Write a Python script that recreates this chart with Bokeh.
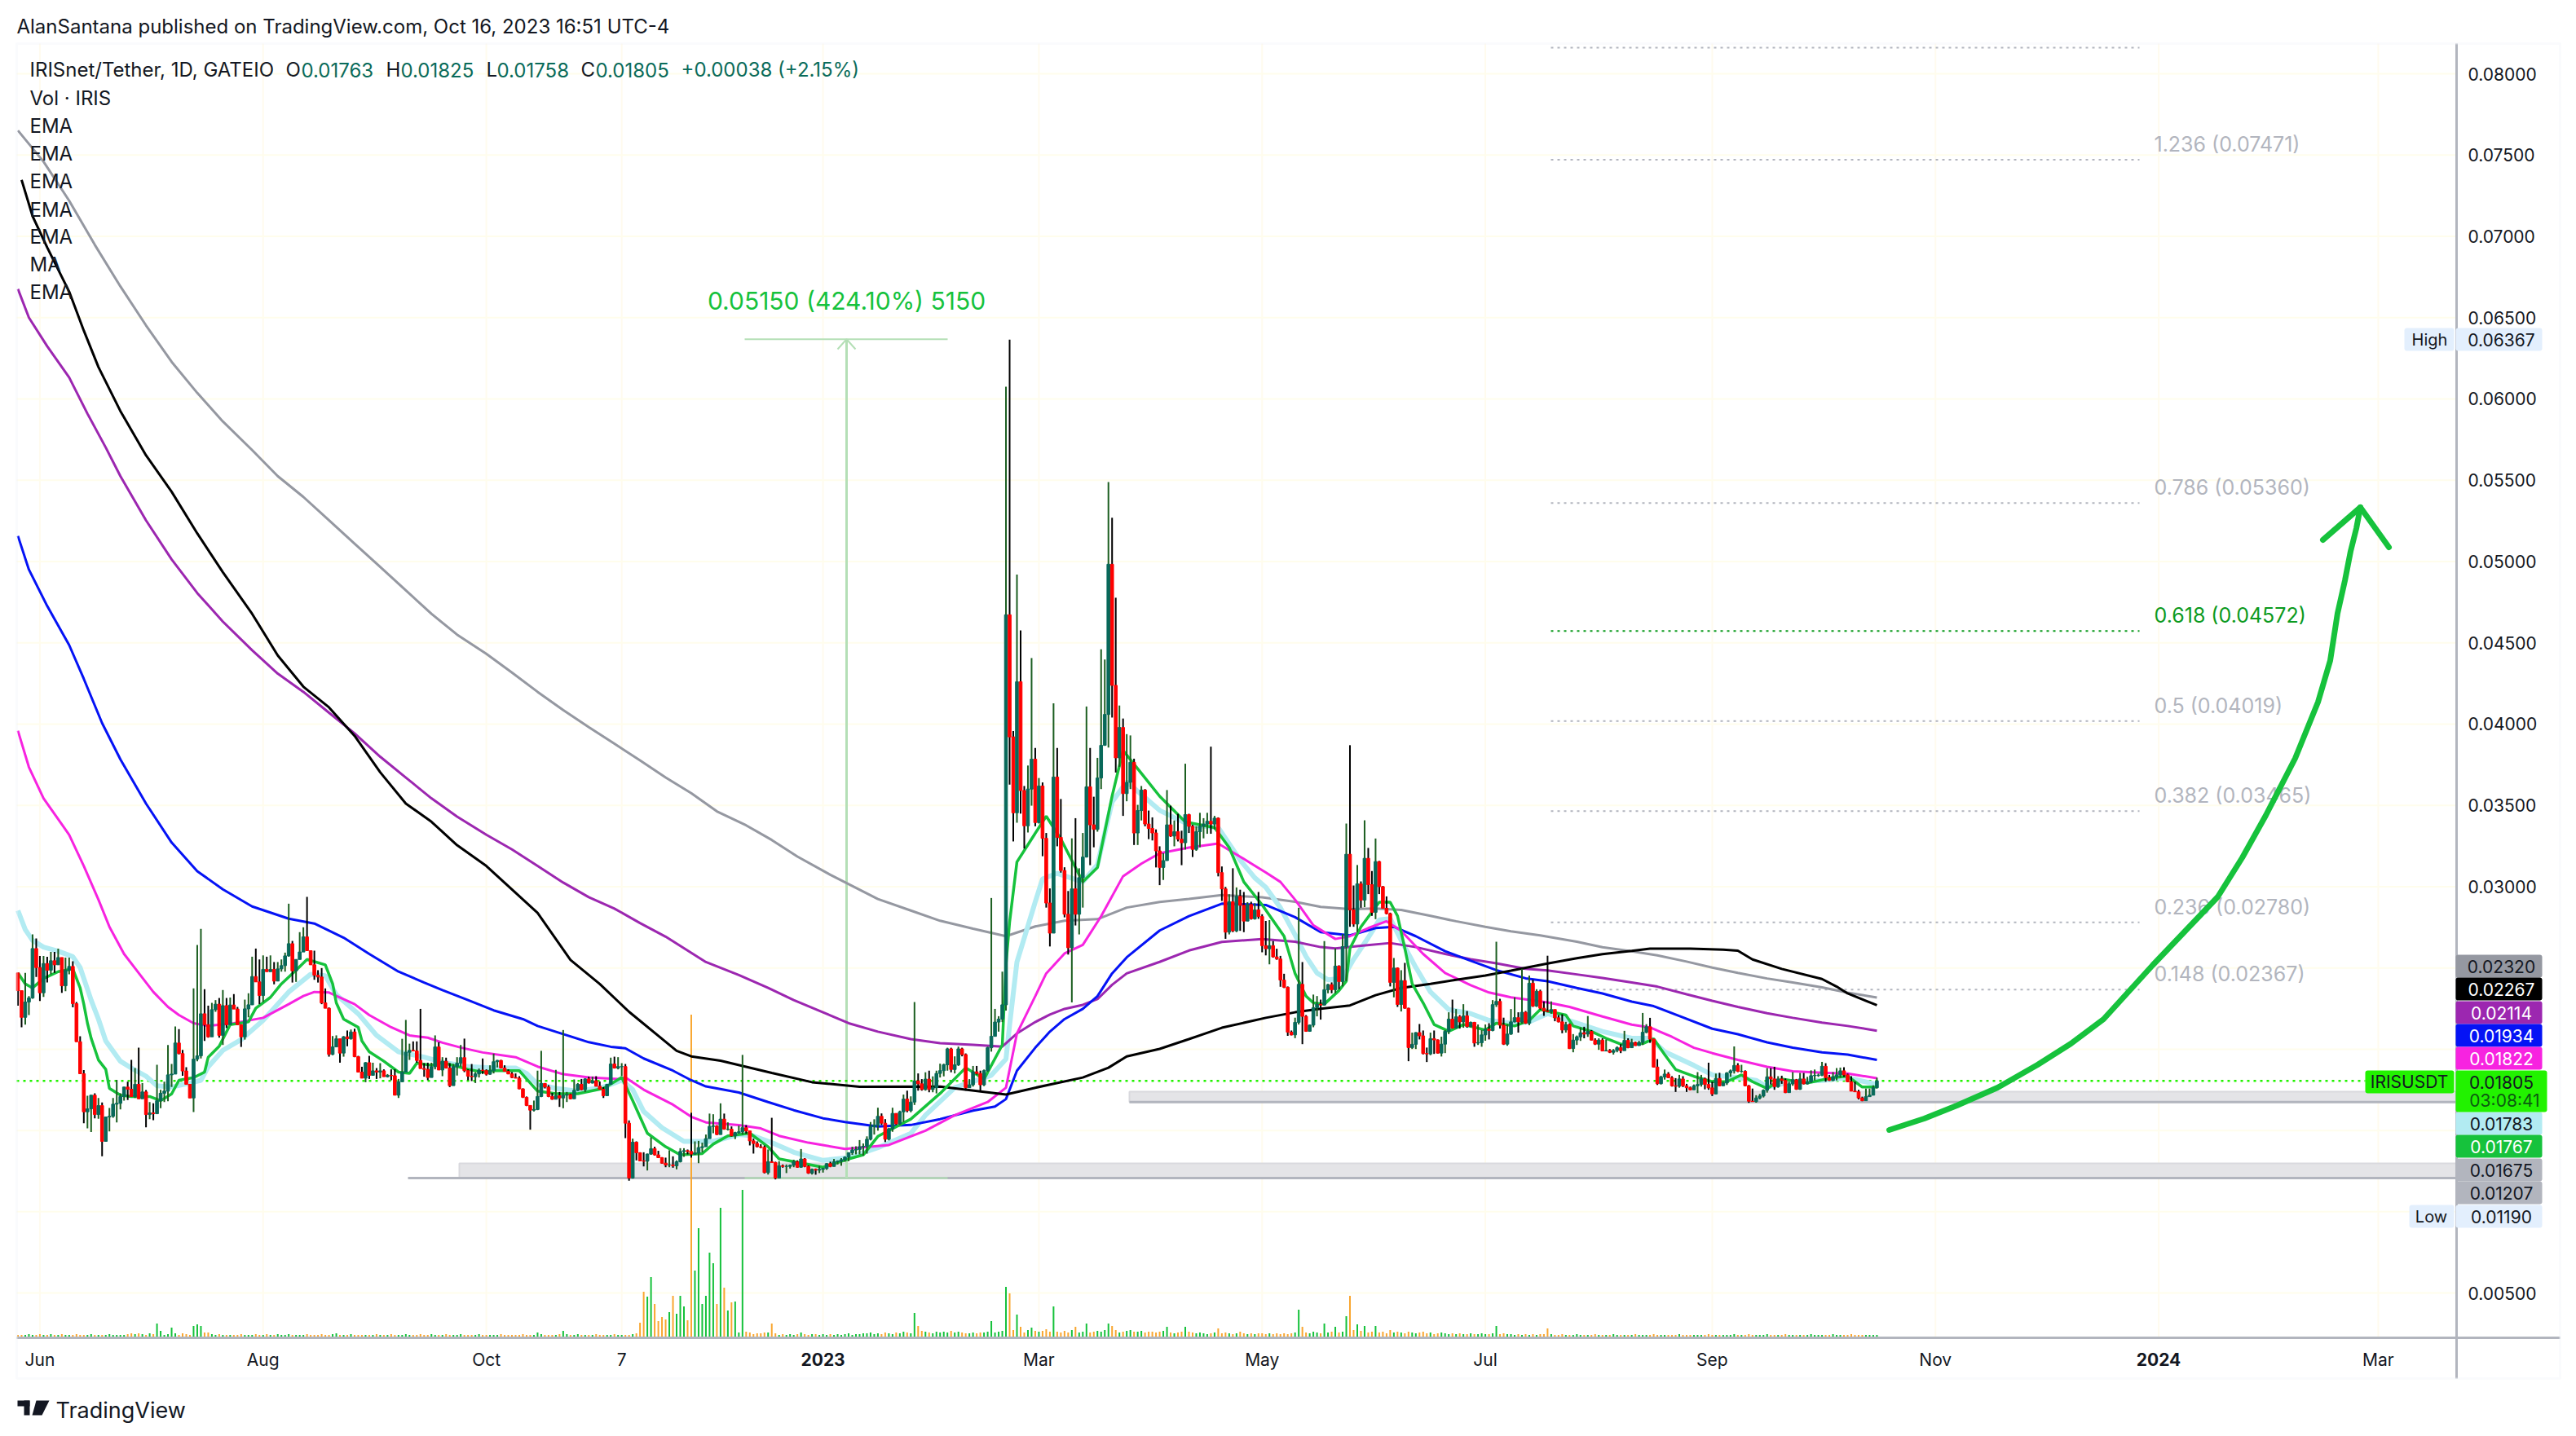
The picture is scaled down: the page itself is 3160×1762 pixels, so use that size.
import numpy as np
from bokeh.plotting import figure
from bokeh.embed import file_html
from bokeh.resources import INLINE
from bokeh.core.properties import value
from bokeh.models import Range1d, FixedTicker, Label, BoxAnnotation, PolyAnnotation, NumeralTickFormatter

FIRST_OPEN = 2469  # prices are in units of 0.00001

CLOSE_A = [
2360,2196,2290,2315,2619,2502,2347,2527,2486,2544,
2519,2564,2390,2486,2509,2280,2046,1849,1615,1633,
1717,1598,1653,1433,1583,1587,1662,1667,1709,1767,
1754,1709,1784,1695,1737,1598,1608,1603,1683,1729,
1742,1842,1847,2038,1973,1866,1784,1700,1939,1959,
2218,2151,2076,2243,2277,2085,2268,2151,2272,2247,
2151,2076,2248,2273,2447,2414,2330,2491,2477,2491,
2419,2494,2514,2574,2649,2482,2552,2598,2691,2606,
2519,2455,2444,2285,2252,1968,2014,2064,1976,2076,
2064,2106,1954,1859,1822,1917,1839,1867,1859,1867,
1831,1839,1837,1717,1800,1859,1981,1993,1989,1931,
1881,1876,1826,1892,2014,1872]
HIGH_A = [
2469,2290,2469,2327,2706,2681,2574,2574,2569,2599,
2599,2619,2564,2564,2564,2541,2290,2080,1872,1714,
1717,1729,1700,1672,1583,1638,1700,1812,1729,1767,
1800,1934,1884,2009,1792,1749,1675,1667,1904,1750,
1800,2026,1909,2140,2123,1996,1889,1787,2374,2641,
2740,2369,2268,2285,2302,2315,2364,2315,2318,2339,
2260,2135,2305,2344,2569,2619,2552,2577,2569,2577,
2536,2536,2552,2594,2895,2666,2552,2720,2750,2937,
2606,2606,2486,2499,2374,2257,2081,2085,2059,2081,
2115,2121,2126,1959,1892,1921,1959,1917,1884,1914,
1876,1847,1876,1876,1817,2064,2180,2034,2048,2048,
2248,1914,1917,1917,2085,2043]
LOW_A = [
2268,2135,2151,2210,2310,2444,2297,2322,2410,2461,
2469,2519,2347,2357,2461,2257,2046,1846,1545,1513,
1491,1575,1572,1341,1458,1495,1578,1550,1630,1683,
1687,1709,1700,1695,1700,1520,1570,1563,1603,1637,
1675,1680,1767,1876,1968,1837,1784,1700,1613,1926,
1943,2051,2071,2081,2230,2071,2026,2130,2156,2247,
2151,2014,2059,2196,2272,2414,2277,2290,2477,2477,
2399,2419,2477,2477,2569,2410,2414,2552,2599,2606,
2519,2427,2410,2277,2252,1954,1963,2014,1917,1954,
2018,2059,1951,1859,1822,1797,1817,1851,1817,1821,
1831,1826,1809,1717,1700,1800,1859,1934,1989,1917,
1881,1831,1809,1826,1876,1872]

CLOSE_B = [
1926,1884,1776,1893,1914,1948,1868,1834,1831,1848,
1871,1868,1846,1868,1923,1931,1884,1864,1848,1826,
1822,1756,1704,1654,1625,1629,1709,1789,1767,1709,
1692,1714,1700,1717,1721,1695,1747,1784,1751,1817,
1792,1806,1772,1754,1714,1784,1909,1884,1893,1893,
1545,1208,1428,1363,1313,1311,1355,1388,1350,1333,
1299,1288,1288,1283,1308,1371,1376,1371,1355,1361,
1395,1400,1450,1525,1528,1475,1570,1508,1508,1467,
1487,1492,1517,1497,1436,1420,1400,1396,1241,1308,
1303,1208,1283,1279,1279,1286,1308,1274,1325,1279,
1238,1261,1256,1261,1266,1296,1279,1308,1311,1320,
1336,1363,1380,1383,1400,1403]
HIGH_B = [
1951,1948,1914,1909,1951,2026,2065,1876,1909,1859,
1881,1943,1876,1901,1973,1934,1934,1901,1876,1859,
1851,1834,1759,1709,1650,1684,1868,1990,1792,1779,
1731,1873,1737,2118,1737,1727,1814,1792,1817,1821,
1831,1831,1834,1801,1767,1784,1948,1954,1951,1914,
1909,1562,1450,1433,1366,1366,1358,1458,1400,1375,
1336,1333,1378,1341,1316,1391,1391,1383,1609,1433,
1436,1425,1475,1604,1600,1533,1667,1604,1550,1525,
1492,1530,1965,1533,1497,1450,1433,1416,1408,1383,
1578,1308,1311,1291,1291,1291,1320,1316,1386,1330,
1286,1266,1266,1283,1271,1299,1308,1325,1316,1330,
1341,1366,1400,1403,1441,1420]
LOW_B = [
1834,1881,1767,1776,1838,1893,1859,1809,1804,1792,
1826,1848,1838,1843,1851,1888,1881,1863,1846,1822,
1821,1754,1700,1650,1505,1617,1625,1705,1759,1705,
1689,1695,1645,1637,1675,1692,1695,1742,1747,1737,
1789,1789,1771,1751,1700,1714,1784,1881,1876,1834,
1453,1191,1204,1316,1311,1279,1254,1350,1346,1330,
1296,1274,1274,1271,1261,1303,1338,1353,1333,1350,
1299,1366,1400,1450,1483,1472,1475,1505,1500,1463,
1447,1480,1475,1480,1408,1358,1396,1391,1236,1229,
1303,1199,1208,1271,1238,1266,1274,1271,1271,1274,
1233,1229,1228,1238,1241,1258,1274,1278,1291,1283,
1308,1311,1350,1353,1353,1346]

CLOSE_C = [
1446,1524,1534,1587,1545,1446,1510,1605,1541,1615,
1693,1622,1675,1805,1787,1752,1816,1752,1763,1851,
1868,1904,2002,1875,1904,2002,1967,1763,1781,1861,
1851,1781,1868,2009,2079,2167,2185,2273]
HIGH_C = [
1464,1552,1569,1640,1605,1570,1517,1640,1605,1622,
1721,1745,1710,2290,1851,1816,1858,1868,1833,1868,
1911,1911,2009,2009,1956,2016,2009,1974,1816,1897,
1897,1868,1875,2016,2930,2248,2203,2477]
LOW_C = [
1358,1439,1475,1499,1534,1429,1439,1492,1534,1534,
1552,1612,1612,1657,1745,1745,1745,1735,1735,1728,
1826,1833,1868,1858,1851,1897,1956,1745,1763,1770,
1844,1745,1773,1861,1985,2079,2108,2167]

CLOSE_D = [
4672,3921,3454,4260,3591,3374,3600,3784,3394,3619,
3297,2899,2714,3674,3303,3099,2830,2624,2986,2830,
3055,3182,3614,3380,3352,3668,3869,4059,4983,4238,
3792,3979,3572,3641,3765,3330,3468,3594,3385,3358,
3330,3220,3118,3160,3380,3311,3338,3292,3270,3443,
3371,3229,3338,3371,3385,3402,3385,3421,3086,2986,
2720,2907,2728,2940,2885,2788,2890,2802,2857,2816,
2637,2618,2637,2568,2555,2425,2381]
HIGH_D = [
6075,6364,3957,4920,4576,3619,3745,4406,3853,3668,
3641,3330,2989,4128,3853,3539,3119,2973,3297,3421,
3113,3330,4108,3853,3553,3792,4460,4397,5489,5269,
4777,4114,4034,3938,3930,3787,3503,3619,3600,3468,
3426,3352,3248,3206,3594,3498,3407,3448,3344,3756,
3448,3380,3371,3454,3421,3454,3861,3435,3426,3124,
2998,2953,3113,2995,2981,2967,2904,2907,2898,2967,
2830,2789,2794,2665,2618,2574,2464]
LOW_D = [
2238,3627,3278,3393,3449,3234,3333,3498,3371,3388,
3187,2871,2632,2714,3248,3086,2811,2582,2288,2761,
2706,2871,3179,3132,3242,3338,3600,3866,3856,4040,
3702,3737,3435,3525,3600,3256,3256,3407,3371,3292,
3284,3118,3009,3041,3165,3306,3248,3278,3132,3228,
3330,3182,3220,3242,3297,3325,3325,3352,3063,2912,
2679,2706,2720,2720,2728,2720,2788,2797,2797,2802,
2596,2577,2522,2563,2550,2384,2376]

CLOSE_E = [
2105,2088,2165,2399,2202,2110,2148,2255,2277,2272,
2366,2397,2366,2511,2416,2631,3199,2857,2770,3017,
2917,3174,3012,2842,3154,3000,2867,2834,2411,2499,
2275,2422,2252,2010,2030,2102,2082,1973,1971,2065,
2057,1976,2031,2110,2185,2130,2199,2168,2205,2140,
2165,2038,2040,2088,2123,2115,2274,2294,2148,2031,
2093,2168,2194,2168,2227,2160,2406,2265,2356,2252,
2235,2232,2244,2193,2168,2118,2152]
HIGH_E = [
2386,2115,2194,2870,2536,2210,2152,2336,2327,2305,
2665,2402,2411,2620,2516,2708,3388,3870,3007,3133,
3032,3408,3238,3096,3296,3158,3004,2940,2840,2561,
2503,2486,2531,2255,2102,2105,2155,2115,2010,2102,
2115,2060,2077,2118,2227,2305,2247,2210,2277,2235,
2170,2168,2152,2118,2152,2160,2302,2661,2310,2194,
2152,2247,2319,2227,2494,2235,2453,2427,2369,2366,
2294,2575,2294,2239,2210,2215,2168]
LOW_E = [
2082,2085,2068,2152,2031,2107,2107,2135,2202,2182,
2269,2344,2344,2344,2369,2386,2419,2753,2753,2720,
2870,2874,2954,2820,2800,2954,2865,2829,2386,2319,
2260,2232,2249,1926,2001,2001,2060,1968,1921,1963,
1971,1973,1955,1976,2093,2127,2127,2127,2132,2132,
2135,2015,2026,2015,2052,2060,2110,2260,2127,2026,
2021,2088,2165,2102,2157,2155,2148,2260,2260,2244,
2205,2227,2218,2172,2165,2098,2102]

CLOSE_F = [
2004,2056,2076,2101,2093,2109,2056,2031,2056,1989,
1992,1981,1992,2009,1991,2054,2009,2042,2022,2042,
2104,2138,2062,1890,1788,1829,1847,1825,1775,1772,
1817,1775,1763,1750,1775,1783,1817,1783,1762,1725,
1820,1775,1792,1854,1867,1900,1864,1864,1775,1680,
1678,1700,1712,1747,1830,1817,1770,1817,1808,1733,
1787,1812,1753,1817,1787,1800,1837,1839,1840,1895,
1825,1808,1830,1842,1867,1842,1800,1742,1738,1700,
1683,1708,1717,1763,1805]
HIGH_F = [
2159,2093,2084,2134,2138,2204,2118,2067,2067,2067,
2059,2001,2001,2017,2031,2113,2067,2064,2047,2051,
2223,2154,2193,2064,1939,1837,1875,1859,1834,1822,
1842,1834,1787,1770,1783,1859,1842,1825,1917,1800,
1850,1855,1800,1859,1875,2017,1914,1904,1870,1780,
1758,1717,1725,1753,1884,1884,1892,1834,1837,1820,
1800,1859,1817,1854,1854,1830,1870,1875,1850,1922,
1914,1842,1859,1884,1887,1889,1850,1834,1800,1750,
1708,1758,1758,1778,1825]
LOW_F = [
2001,1981,2026,2051,2067,2076,2054,2026,1996,1987,
1987,1976,1967,1981,1976,1996,2006,2012,2021,2026,
2026,2098,2039,1889,1780,1783,1813,1822,1770,1737,
1763,1767,1737,1747,1750,1730,1770,1753,1750,1712,
1723,1772,1775,1780,1830,1850,1859,1855,1772,1670,
1676,1671,1691,1703,1733,1783,1750,1763,1787,1730,
1733,1775,1750,1750,1783,1783,1792,1808,1830,1834,
1800,1805,1803,1808,1825,1830,1797,1742,1737,1691,
1680,1687,1708,1717,1758]

VOLUME = [
2,2,2,3,2,2,3,2,2,3, 2,2,3,2,2,2,3,2,2,2, 3,2,2,2,2,3,2,2,2,2, 3,4,3,4,3,2,4,3,16,7,
2,3,11,4,2,4,3,2,13,15, 13,5,5,3,2,3,2,2,2,2, 2,3,2,2,2,3,2,2,3,2, 2,3,2,2,3,2,2,2,2,3,
2,2,2,3,2,2,3,4,2,2, 2,3,2,2,2,2,2,2,3,2, 2,2,3,2,2,2,3,2,2,2, 3,2,2,3,2,2,2,3,2,2,
2,3,2,2,2,2,3,2,2,2, 2,2,3,2,2,2,2,2,3,2, 2,2,5,3,2,2,2,2,3,7, 3,2,2,3,2,2,2,2,3,2,
2,2,2,3,2,2,2,2,3,4, 17,55,49,73,40,19,24,21,30,50, 28,50,37,20,395,81,133,40,50,103,
90,40,158,60,32,42,43,5,180,6, 5,3,4,4,5,5,16,4,2,3, 2,3,2,3,5,3,2,3,3,2, 3,2,3,2,3,2,3,4,2,3,
3,4,4,5,3,4,3,5,4,3, 5,4,6,5,4,29,13,7,6,5, 4,6,5,6,5,7,5,6,5,4, 4,5,4,5,5,6,19,5,6,7,
61,53,8,27,12,5,8,11,7,6, 7,9,6,37,6,5,7,5,8,12, 5,6,16,5,6,7,6,8,16,13, 8,5,6,7,8,6,6,7,5,6,
6,5,6,7,12,5,4,5,6,12, 6,5,4,5,4,3,4,5,10,4, 5,4,3,4,6,4,3,4,3,4, 4,3,4,3,4,3,4,3,4,5,
33,12,5,4,6,5,4,16,5,6, 12,5,6,25,50,8,15,7,13,5, 6,13,5,6,4,8,5,6,5,4, 6,5,4,5,6,4,5,3,4,5,
4,3,4,3,4,3,3,4,3,3, 4,3,3,4,13,3,4,3,3,2, 3,2,3,2,3,2,3,3,10,3, 2,2,3,2,2,2,3,2,2,2,
2,3,2,2,2,2,3,2,2,2, 2,2,3,2,2,2,2,3,2,2, 2,2,2,2,3,2,2,2,2,2, 2,2,3,2,2,2,2,2,2,3,
2,2,2,3,2,2,2,2,3,2, 2,2,2,3,2,2,2,2,2,2, 3,2,2,2,2,2,3,2,2,2, 2,3,2,2,2,2,2,2,2]

GRAY_I = [0,7,14,21,28,35,42,49,56,64,71,78,85,92,99,106,113,120,128,135,142,149,156,163,170,177,184,191,199,206,213,222,
          235,244,252,261,270,278,286,295,303,312,320,329,340,349,356,364,371,378,386,393,401,408,416,426,433,441,448,456,463,470,478,485,493,500,508]
GRAY_P = [7651,7459,7219,6948,6692,6452,6228,6037,5861,5685,5525,5397,5253,5109,4966,4822,4678,4550,4432,4317,4198,4086,3981,3879,3776,3671,3575,3463,3377,3287,3185,3073,
          2924,2853,2790,2741,2695,2755,2790,2800,2871,2906,2924,2948,2934,2907,2875,2862,2865,2857,2820,2787,2753,2725,2700,2661,2627,2602,2577,2539,2502,2469,2435,2410,2380,2348,2318]
BLACK_I = [1,4,8,14,18,22,28,35,42,49,56,64,71,78,85,92,99,106,113,120,128,135,142,151,159,167,180,184,192,206,217,230,252,270,278,291,298,303,312,320,329,341,349,356,364,371,378,386,393,401,408,418,426,433,441,446,457,466,470,474,482,493,497,500,508]
BLACK_P = [7347,7124,6932,6660,6420,6196,5925,5653,5429,5173,4934,4678,4422,4230,4103,3927,3703,3511,3399,3255,3127,2983,2839,2549,2401,2230,1990,1956,1929,1854,1797,1769,1770,1721,1763,1826,1886,1956,2002,2062,2132,2193,2227,2249,2269,2332,2377,2402,2427,2453,2483,2527,2560,2585,2605,2619,2619,2612,2606,2552,2494,2432,2385,2343,2271]
PURPLE_I = [0,3,8,14,19,24,28,35,42,49,56,64,71,78,85,92,99,106,113,120,128,135,142,149,156,163,170,177,188,197,205,212,220,227,235,244,252,261,269,273,278,282,286,291,295,299,303,312,320,329,340,349,356,360,367,375,382,390,397,404,412,418,426,433,441,448,456,463,470,478,485,493,500,508]
PURPLE_P = [6676,6500,6324,6132,5909,5701,5525,5253,5013,4806,4630,4454,4310,4198,4070,3943,3799,3671,3543,3431,3319,3229,3127,3025,2935,2865,2776,2692,2536,2456,2377,2302,2227,2160,2108,2062,2037,2027,2016,2097,2167,2213,2248,2273,2308,2396,2466,2537,2607,2660,2677,2661,2628,2620,2636,2653,2628,2586,2553,2528,2494,2485,2460,2438,2410,2385,2338,2298,2260,2221,2193,2164,2143,2114]
BLUE_I = [0,3,8,14,18,23,28,35,42,49,56,64,74,81,89,96,104,111,116,123,130,138,142,149,156,162,166,171,179,184,188,197,205,212,220,226,235,244,252,261,267,270,273,278,282,286,291,295,299,303,312,320,329,341,349,356,364,371,376,382,390,397,404,412,418,426,433,441,447,454,463,470,478,485,493,500,508]
BLUE_P = [5157,4950,4726,4486,4278,4006,3783,3511,3271,3095,2983,2878,2803,2773,2686,2586,2477,2410,2364,2302,2239,2185,2143,2093,2043,2015,2006,1943,1868,1809,1771,1734,1675,1625,1575,1552,1524,1534,1570,1622,1647,1693,1868,2009,2108,2185,2248,2326,2466,2565,2730,2818,2895,2887,2812,2720,2700,2745,2753,2695,2603,2544,2486,2436,2418,2377,2343,2293,2265,2204,2126,2092,2042,2009,1981,1967,1934]
MAGENTA_I = [0,3,7,14,18,22,25,29,33,37,41,44,48,52,59,67,74,78,81,85,92,96,102,107,112,116,121,127,136,142,149,156,164,166,171,179,184,188,197,203,208,216,226,238,248,256,265,270,273,278,281,286,291,296,302,307,312,320,328,334,338,341,345,349,354,360,364,369,374,378,384,390,397,402,408,418,424,433,441,446,452,458,463,470,478,485,493,500,508]
MAGENTA_P = [3959,3735,3543,3319,3127,2920,2753,2586,2469,2352,2260,2210,2160,2143,2160,2193,2277,2327,2352,2349,2277,2210,2135,2085,2071,2040,2010,1980,1951,1893,1846,1826,1817,1826,1751,1659,1584,1550,1533,1513,1467,1425,1387,1411,1499,1594,1675,1763,2097,2326,2466,2589,2642,2818,3064,3141,3205,3240,3265,3184,3129,3087,3029,2920,2762,2678,2695,2745,2787,2728,2586,2469,2394,2349,2319,2288,2260,2201,2151,2134,2076,2009,1976,1934,1892,1864,1855,1850,1822]
LIGHT_I = [0,2,4,7,11,15,17,20,22,24,28,31,35,38,42,47,50,52,56,61,67,74,80,84,87,93,98,104,111,116,123,130,136,139,142,147,153,160,165,168,171,176,182,190,197,201,207,212,220,227,235,244,248,256,266,270,271,273,278,280,284,291,295,299,303,312,320,328,334,338,341,345,349,352,355,358,362,365,369,372,375,378,382,386,391,397,402,408,413,418,425,433,441,446,450,458,463,470,475,478,485,493,500,508]
LIGHT_P = [2853,2736,2669,2628,2603,2569,2502,2302,2185,2051,1926,1884,1834,1775,1767,1792,1809,1892,1993,2059,2177,2352,2461,2452,2335,2218,2085,1984,1951,1920,1893,1884,1884,1851,1784,1759,1742,1767,1809,1751,1617,1517,1433,1433,1475,1467,1416,1366,1316,1333,1394,1482,1594,1763,1840,1939,2150,2537,2906,3047,3082,3029,3135,3521,3645,3469,3381,3363,3163,3054,2996,2870,2703,2570,2469,2427,2436,2553,2686,2795,2803,2670,2503,2352,2244,2219,2177,2160,2168,2219,2168,2109,2067,2067,1984,1900,1842,1825,1808,1767,1800,1808,1825,1783]
GREEN_I = [0,2,4,7,11,15,17,18,19,20,22,24,25,28,31,36,39,42,44,48,51,52,55,58,63,65,69,72,76,79,84,86,87,89,93,94,96,100,104,107,109,113,116,123,127,130,137,139,142,147,153,160,165,168,170,172,177,181,187,190,194,200,205,208,216,220,227,231,235,244,252,259,264,269,270,271,273,277,281,285,291,295,299,302,307,312,319,327,331,335,340,346,349,352,354,357,361,363,364,367,372,375,377,379,381,384,387,391,395,401,404,409,413,416,423,425,430,434,438,444,447,450,453,458,463,467,471,474,478,482,489,496,500,504,508]
GREEN_P = [2469,2402,2377,2435,2477,2494,2377,2277,2160,2068,1934,1876,1759,1717,1709,1709,1683,1725,1809,1825,1859,1951,2018,2151,2168,2252,2319,2402,2486,2552,2519,2402,2285,2185,2135,2051,1984,1926,1859,1851,1914,1901,1918,1876,1859,1868,1868,1817,1742,1726,1726,1759,1826,1684,1583,1483,1400,1350,1358,1416,1467,1483,1400,1325,1291,1274,1325,1350,1464,1570,1728,1886,1816,2027,2519,2783,3152,3293,3433,3293,3029,3117,3557,3838,3697,3556,3398,3363,3240,3029,2888,2695,2466,2327,2285,2277,2361,2419,2620,2753,2904,2904,2820,2620,2402,2285,2152,2110,2152,2118,2160,2143,2177,2244,2210,2143,2109,2067,2031,2034,2064,1967,1875,1833,1800,1800,1842,1800,1758,1817,1792,1825,1834,1767,1767]

FIB_LEVELS = [0.0816, 0.07471, 0.05360, 0.04572, 0.04019, 0.03465, 0.02780, 0.02367]
FIB_TEXTS = ["", "1.236 (0.07471)", "0.786 (0.05360)", "0.618 (0.04572)", "0.5 (0.04019)", "0.382 (0.03465)", "0.236 (0.02780)", "0.148 (0.02367)"]
FIB_COLORS = ["#b2b5be", "#b2b5be", "#b2b5be", "#0c9a1e", "#b2b5be", "#b2b5be", "#b2b5be", "#b2b5be"]

PRICE_TICKS = [0.08, 0.075, 0.07, 0.065, 0.06, 0.055, 0.05, 0.045, 0.04, 0.035, 0.03, 0.005]
GRID_TICKS = [0.08, 0.075, 0.07, 0.065, 0.06, 0.055, 0.05, 0.045, 0.04, 0.035, 0.03, 0.025, 0.02, 0.015, 0.01, 0.005]
DATE_TICKS = [6, 67, 128, 165, 220, 279, 340, 401, 463, 524, 585, 645]
DATE_LABELS = ["Jun", "Aug", "Oct", "7", "", "Mar", "May", "Jul", "Sep", "Nov", "", "Mar"]
BOLD_TICKS = [220, 585]
BOLD_LABELS = ["2023", "2024"]

PRICE_TAGS = ["0.02320", "0.02267", "0.02114", "0.01934", "0.01822", "0.01783", "0.01767", "0.01675", "0.01207"]
TAG_FILLS = ["#9598a1", "#000000", "#9c27b0", "#0513f5", "#f723e0", "#b2ebf2", "#16c23c", "#b2b5be", "#b2b5be"]
TAG_TEXTS = ["#131722", "#ffffff", "#ffffff", "#ffffff", "#ffffff", "#131722", "#ffffff", "#131722", "#131722"]
TAG_ROWS = [1185, 1213, 1242, 1270, 1298, 1378, 1406, 1435, 1463]

ZONE_TOP = [1297, 1739]
ZONE_BOTTOM = [1207, 1675]

ARROW_X = [2317, 2360, 2400, 2450, 2499, 2540, 2580, 2640, 2700, 2720, 2750, 2779, 2815, 2843, 2858, 2867, 2876, 2883, 2890, 2895]
ARROW_Y = [1386, 1372, 1356, 1334, 1306, 1280, 1250, 1184, 1121, 1100, 1052, 1000, 930, 861, 810, 752, 712, 676, 648, 622]
HEAD_X = [2849, 2895, 2930]
HEAD_Y = [662, 622, 671]

close = np.array(CLOSE_A + CLOSE_B + CLOSE_C + CLOSE_D + CLOSE_E + CLOSE_F) * 1e-5
high = np.array(HIGH_A + HIGH_B + HIGH_C + HIGH_D + HIGH_E + HIGH_F) * 1e-5
low = np.array(LOW_A + LOW_B + LOW_C + LOW_D + LOW_E + LOW_F) * 1e-5
opn = np.concatenate([[FIRST_OPEN * 1e-5], close[:-1]])
vol = np.array(VOLUME, dtype=float)
n = min(len(close), len(high), len(low), len(vol))
close, high, low, opn, vol = close[:n], high[:n], low[:n], opn[:n], vol[:n]
idx = np.arange(n)
up = close >= opn


def xd(px):
    return (px - 21.5) / 4.489


def yd(py):
    return (8000 - (py - 90) * 5.013) * 1e-5


FONT = "Inter"
W, H = 3144, 1746
RIGHT, BOTTOM = 3013, 1641
p = figure(width=W, height=H, output_backend="svg", toolbar_location=None,
           x_range=Range1d(xd(0), xd(W)), y_range=Range1d(yd(H), yd(0)),
           y_axis_location="right", min_border=0, outline_line_color=None,
           background_fill_color="#ffffff", border_fill_color="#ffffff")
p.extra_y_ranges = {"vol": Range1d(-(H - BOTTOM + 1.5), BOTTOM - 1.5)}
p.xgrid.visible = False
p.ygrid.visible = False

ax = p.yaxis[0]
ax.fixed_location = xd(RIGHT)
ax.bounds = (yd(1691), yd(53))
ax.ticker = FixedTicker(ticks=PRICE_TICKS)
ax.formatter = NumeralTickFormatter(format="0.00000")
ax.axis_line_color = "#b2b5be"
ax.axis_line_width = 3
ax.major_tick_line_color = None
ax.minor_tick_line_color = None
ax.major_label_text_font = FONT
ax.major_label_text_font_size = "21px"
ax.major_label_text_color = "#131722"
ax.major_label_standoff = 8

bx = p.xaxis[0]
bx.fixed_location = yd(BOTTOM)
bx.bounds = (xd(20), xd(3140))
bx.ticker = FixedTicker(ticks=DATE_TICKS)
bx.major_label_overrides = {t: s for t, s in zip(DATE_TICKS, DATE_LABELS)}
bx.axis_line_color = "#b2b5be"
bx.axis_line_width = 3
bx.major_tick_line_color = None
bx.minor_tick_line_color = None
bx.major_label_text_font = FONT
bx.major_label_text_font_size = "21px"
bx.major_label_text_color = "#131722"
bx.major_label_standoff = 8

# faint grid
p.segment(x0=DATE_TICKS, x1=DATE_TICKS, y0=yd(BOTTOM), y1=yd(53), line_color="#fffbee", line_width=2)
p.segment(x0=xd(20), x1=xd(RIGHT), y0=GRID_TICKS, y1=GRID_TICKS, line_color="#fffdec", line_width=2)

# zones with the level under them
for t, b, left in zip(ZONE_TOP, ZONE_BOTTOM, [563, 1385]):
    p.quad(left=xd(left), right=xd(RIGHT), top=t * 1e-5, bottom=b * 1e-5,
           fill_color="#e4e4e7", line_color="#d9d9de", line_width=2)
p.segment(x0=xd(500), x1=xd(RIGHT), y0=ZONE_BOTTOM[0] * 1e-5, y1=ZONE_BOTTOM[0] * 1e-5, line_color="#b2b5be", line_width=3)
p.segment(x0=xd(1385), x1=xd(RIGHT), y0=ZONE_BOTTOM[1] * 1e-5, y1=ZONE_BOTTOM[1] * 1e-5, line_color="#b2b5be", line_width=3)

# fib levels
for lv, txt, col in zip(FIB_LEVELS, FIB_TEXTS, FIB_COLORS):
    p.line([xd(1902), xd(2624)], [lv, lv], line_color=col, line_width=2, line_dash="3 5")
    if txt:
        p.text([xd(2642)], [yd((8000 - lv * 1e5) / 5.013 + 90 - 19)], text=[txt], text_color=col,
               text_font=value(FONT), text_font_size="25px", text_baseline="middle", text_align="left")

# measure tool
mx = xd(1038)
top_m, bot_m = 0.06367, 0.01207
p.line([mx, mx], [bot_m, top_m], line_color="#b4dfb6", line_width=3)
p.line([xd(913), xd(1162)], [top_m, top_m], line_color="#b4dfb6", line_width=2)
p.line([xd(913), xd(1162)], [bot_m, bot_m], line_color="#b4dfb6", line_width=2)
p.line([xd(1027), mx, xd(1049)], [yd(428), top_m, yd(428)], line_color="#b4dfb6", line_width=2)

# volume
p.segment(x0=idx, x1=idx, y0=np.zeros(n), y1=vol, y_range_name="vol",
          line_color=["#14c13a" if u else "#f9a62f" for u in up], line_width=2)

# last price line
p.line([xd(20), xd(2901)], [0.01805, 0.01805], line_color="#22f200", line_width=2.5, line_dash="3 5")

# moving averages
p.line(GRAY_I, np.array(GRAY_P) * 1e-5, line_color="#9598a1", line_width=3)
p.line(LIGHT_I, np.array(LIGHT_P) * 1e-5, line_color="#b2ebf2", line_width=6)
p.line(PURPLE_I, np.array(PURPLE_P) * 1e-5, line_color="#9c27b0", line_width=3)
p.line(BLUE_I, np.array(BLUE_P) * 1e-5, line_color="#0513f5", line_width=3)
p.line(MAGENTA_I, np.array(MAGENTA_P) * 1e-5, line_color="#f723e0", line_width=3)
p.line(BLACK_I, np.array(BLACK_P) * 1e-5, line_color="#000000", line_width=3)
p.line(GREEN_I, np.array(GREEN_P) * 1e-5, line_color="#16c23c", line_width=3.5)

# candles
p.segment(x0=idx, x1=idx, y0=low, y1=high, line_color=["#1b5e20" if u else "#000000" for u in up], line_width=2)
cols = ["#08695a" if u else "#ff0000" for u in up]
p.vbar(x=idx, width=0.8, top=np.maximum(opn, close), bottom=np.minimum(opn, close), fill_color=cols, line_color=cols, line_width=1)

# hand-drawn arrow
p.line([xd(v) for v in ARROW_X], [yd(v) for v in ARROW_Y], line_color="#16c23c", line_width=7, line_cap="round", line_join="round")
p.line([xd(v) for v in HEAD_X], [yd(v) for v in HEAD_Y], line_color="#16c23c", line_width=7, line_cap="round", line_join="round")


def label(px, py, text, color="#131722", size=24, align="left", style="normal", font=FONT):
    p.add_layout(Label(x=xd(px), y=yd(py), text=text, x_units="data", y_units="data", text_color=color,
                       text_font=font, text_font_size=f"{size}px", text_align=align,
                       text_baseline="middle", text_font_style=style))


def box(l, r, t, b, fill, radius=3):
    p.add_layout(BoxAnnotation(left=xd(l), right=xd(r), top=yd(t), bottom=yd(b), fill_color=fill, fill_alpha=1,
                               line_alpha=0, border_radius=radius))


# outer frame
p.add_layout(BoxAnnotation(left=xd(20), right=xd(3140), top=yd(53), bottom=yd(1691), fill_alpha=0,
                           line_color="#f0f3fa", line_width=3))

# legend
label(20, 32, "AlanSantana published on TradingView.com, Oct 16, 2023 16:51 UTC-4")
label(36, 85, "IRISnet/Tether, 1D, GATEIO")
TEAL = "#0a6b5a"
for xl, t in zip([350, 473, 596, 712], "OHLC"):
    label(xl, 85, t)
for xl, t in zip([369, 491, 609, 730, 835], ["0.01763", "0.01825", "0.01758", "0.01805", "+0.00038 (+2.15%)"]):
    label(xl, 85, t, TEAL)
label(36, 120, "Vol · IRIS")
for yl, t in zip([154, 188, 222, 257, 290, 324, 358], ["EMA", "EMA", "EMA", "EMA", "EMA", "MA", "EMA"]):
    label(36, yl, t)
label(1038, 368, "0.05150 (424.10%) 5150", "#16c23c", 30, "center")

# price tags
for txt, fill, tc, yl in zip(PRICE_TAGS, TAG_FILLS, TAG_TEXTS, TAG_ROWS):
    box(3012, 3118, yl - 14, yl + 14, fill)
    label(3068, yl, txt, tc, 21, "center")
box(3012, 3124, 1313, 1364, "#22f200")
label(3068, 1327, "0.01805", "#131722", 21, "center")
label(3072, 1350, "03:08:41", "#0c5c10", 21, "center")
box(2901, 3010, 1313, 1341, "#22f200")
label(2955, 1327, "IRISUSDT", "#131722", 21, "center")
box(2949, 3010, 402, 430, "#e3effd")
box(3012, 3118, 402, 430, "#e3effd")
label(2980, 416, "High", "#131722", 20, "center")
label(3068, 416, "0.06367", "#131722", 21, "center")
box(2955, 3010, 1478, 1506, "#e3effd")
box(3012, 3118, 1478, 1506, "#e3effd")
label(2982, 1492, "Low", "#131722", 20, "center")
label(3068, 1492, "0.01190", "#131722", 21, "center")

# bold year ticks
for t, s in zip(BOLD_TICKS, BOLD_LABELS):
    label(21.5 + 4.489 * t, 1667, s, "#131722", 21, "center", "bold")

# logo
box(21, 36, 1718, 1725, "#131722", 0)
box(29, 36, 1718, 1736, "#131722", 0)
p.add_layout(PolyAnnotation(xs=[xd(44), xd(60), xd(51), xd(39)], ys=[yd(1718), yd(1718), yd(1736), yd(1736)],
                            fill_color="#131722", fill_alpha=1, line_alpha=0))
label(68, 1730, "TradingView", "#131722", 27, "left", "normal")

open("out.html", "w").write(file_html(p, INLINE))
